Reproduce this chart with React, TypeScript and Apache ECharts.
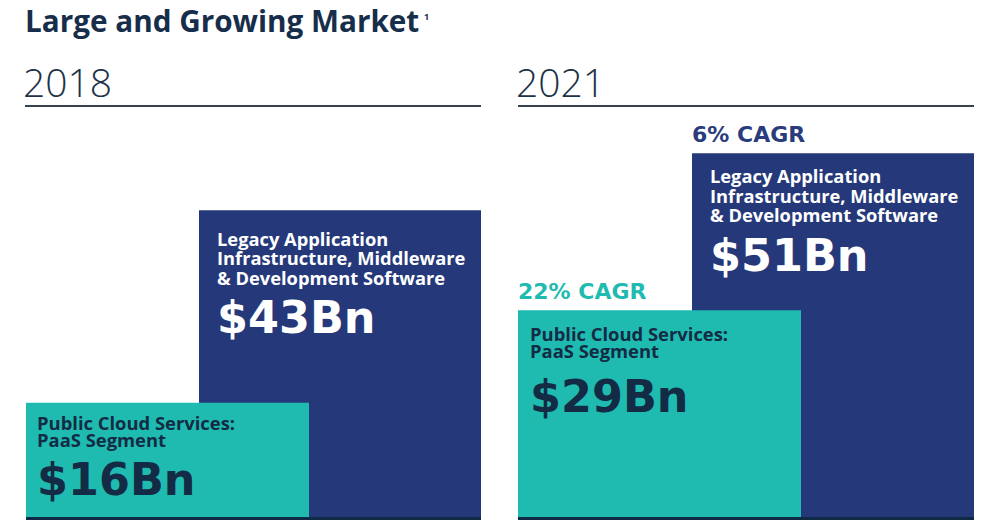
import React, { useEffect, useRef } from "react";
import * as echarts from "echarts";

const years = ["2018", "2021"];
const paasValues = [16, 29];
const legacyValues = [43, 51];
const cagrPaas = "22% CAGR";
const cagrLegacy = "6% CAGR";
const paasLines = ["Public Cloud Services:", "PaaS Segment"];
const legacyLines = ["Legacy Application", "Infrastructure, Middleware", "& Development Software"];
const titleText = "Large and Growing Market";

const TEAL = "#1fbbb0";
const NAVY = "#25397a";
const DARK = "#142b45";
const SANS = "'Open Sans', Lato, sans-serif";
const WIDE = "'DejaVu Sans', sans-serif";

// label offsets (px from each bar's top-left corner), per panel
const paasLabelPos = [[11, 11], [12, 15]];
const legacyLabelPos = [[18, 18], [18, 13]];
const paasValueLineHeight = [64, 75];
const barGaps = ["-38.87%", "-38.52%"];

export default function App() {
  const ref = useRef<HTMLDivElement>(null);
  useEffect(() => {
    if (!ref.current) return;
    const chart = echarts.init(ref.current, undefined, { renderer: "svg" });
    const grids = [
      { left: 26, top: 89, width: 455, height: 428 },
      { left: 518, top: 89, width: 456, height: 428 },
    ];
    const fmt = (lines: string[]) => (p: any) =>
      lines.map((l) => `{t|${l}}`).join("\n") + `\n{v|$${p.value}Bn}`;
    const series: any[] = [];
    years.forEach((y, i) => {
      series.push({
        type: "bar",
        name: "PaaS " + y,
        xAxisIndex: i,
        yAxisIndex: i,
        data: [paasValues[i]],
        barWidth: 283,
        barGap: barGaps[i],
        z: 3,
        itemStyle: { color: TEAL },
        label: {
          show: true,
          position: paasLabelPos[i],
          formatter: fmt(paasLines),
          rich: {
            t: { fontFamily: SANS, fontWeight: 700, fontSize: 18.4, lineHeight: 17, color: DARK },
            v: { fontFamily: WIDE, fontWeight: "bold", fontSize: 44.5, lineHeight: paasValueLineHeight[i], color: DARK },
          },
        },
      });
      series.push({
        type: "bar",
        name: "Legacy " + y,
        xAxisIndex: i,
        yAxisIndex: i,
        data: [legacyValues[i]],
        barWidth: 282,
        barGap: barGaps[i],
        z: 2,
        itemStyle: { color: NAVY },
        label: {
          show: true,
          position: legacyLabelPos[i],
          formatter: fmt(legacyLines),
          rich: {
            t: { fontFamily: SANS, fontWeight: 700, fontSize: 18.3, lineHeight: 19.5, color: "#ffffff" },
            v: { fontFamily: WIDE, fontWeight: "bold", fontSize: 44.5, lineHeight: 62, color: "#ffffff" },
          },
        },
      });
    });
    chart.setOption({
      animation: false,
      grid: grids,
      xAxis: years.map((y, i) => ({
        type: "category",
        gridIndex: i,
        data: [y],
        offset: 2.5,
        axisLabel: { show: false },
        axisTick: { show: false },
        axisLine: { show: true, lineStyle: { color: "#0f2a44", width: 5, cap: "butt" } },
      })),
      yAxis: years.map((y, i) => ({
        type: "value",
        gridIndex: i,
        min: 0,
        max: 60,
        show: false,
        splitLine: { show: false },
      })),
      series,
      graphic: [
        {
          type: "text",
          left: 25,
          top: 5,
          style: { text: titleText, fontFamily: SANS, fontWeight: 700, fontSize: 29.7, fill: "#172e4b" },
        },
        {
          type: "text",
          x: 424,
          y: 12,
          style: { text: "1", fontFamily: SANS, fontWeight: 700, fontSize: 9, fill: "#172e4b" },
        },
        {
          type: "text",
          x: 23,
          y: 81,
          style: { text: years[0], fontFamily: SANS, fontWeight: 300, fontSize: 39, fill: "#1d3247", verticalAlign: "middle" },
        },
        {
          type: "text",
          x: 516,
          y: 81,
          style: { text: years[1], fontFamily: SANS, fontWeight: 300, fontSize: 39, fill: "#1d3247", verticalAlign: "middle" },
        },
        { type: "line", shape: { x1: 25, y1: 106, x2: 481, y2: 106 }, style: { stroke: "#36434f", lineWidth: 2 } },
        { type: "line", shape: { x1: 518, y1: 106, x2: 974, y2: 106 }, style: { stroke: "#36434f", lineWidth: 2 } },
        {
          type: "text",
          x: 692,
          y: 134,
          style: { text: cagrLegacy, fontFamily: WIDE, fontWeight: "bold", fontSize: 22, fill: "#2a3c7c", verticalAlign: "middle" },
        },
        {
          type: "text",
          x: 518,
          y: 291,
          style: { text: cagrPaas, fontFamily: WIDE, fontWeight: "bold", fontSize: 22, fill: TEAL, verticalAlign: "middle" },
        },
      ],
    });
    return () => chart.dispose();
  }, []);
  return <div ref={ref} style={{ width: 984, height: 530, position: "absolute", left: 0, top: 0 }} />;
}
